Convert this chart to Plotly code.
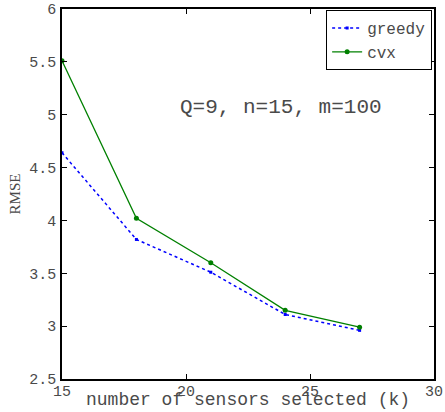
import plotly.graph_objects as go

k_values = [15, 18, 21, 24, 27]
greedy_rmse = [4.64, 3.82, 3.51, 3.11, 2.96]
cvx_rmse = [5.51, 4.02, 3.60, 3.15, 2.99]
x_ticks = [15, 20, 25, 30]
y_ticks = [2.5, 3, 3.5, 4, 4.5, 5, 5.5, 6]
y_tick_text = ["2.5", "3", "3.5", "4", "4.5", "5", "5.5", "6"]

mono = "Liberation Mono, Courier New, monospace"
gray = "#4a4a4a"

fig = go.Figure()
fig.add_trace(go.Scatter(
    x=k_values, y=greedy_rmse, name="greedy", mode="lines+markers",
    line=dict(color="#0000ff", width=1.5, dash="dot"),
    marker=dict(color="#0000ff", size=3, symbol="square"),
))
fig.add_trace(go.Scatter(
    x=k_values, y=cvx_rmse, name="cvx", mode="lines+markers",
    line=dict(color="#008000", width=1.3),
    marker=dict(color="#008000", size=5, symbol="circle"),
))

axis_common = dict(
    showline=True, linecolor="black", linewidth=1.5, mirror="ticks",
    ticks="inside", ticklen=5, tickcolor="black", tickwidth=1,
    showgrid=False, zeroline=False, automargin=False,
    tickfont=dict(family=mono, size=15, color=gray),
)

fig.update_xaxes(
    range=[15, 30], tickvals=x_ticks, ticktext=[str(v) for v in x_ticks],
    ticklabelstandoff=-3,
    **axis_common,
)
fig.update_yaxes(
    range=[2.5, 6], tickvals=y_ticks, ticktext=y_tick_text,
    title=dict(text="RMSE",
               font=dict(family="Liberation Serif, Times New Roman, serif", size=15, color=gray),
               standoff=5),
    ticklabelstandoff=1,
    **axis_common,
)

# x-axis title placed as annotation (sits just under the tick labels like the reference)
fig.add_annotation(
    x=0.5, y=-0.089, xref="paper", yref="paper", showarrow=False,
    xanchor="center", yanchor="bottom",
    text="number of sensors selected (k)", font=dict(family=mono, size=18, color=gray),
)

fig.add_annotation(
    x=0.59, y=0.77, xref="paper", yref="paper", showarrow=False,
    text="Q=9, n=15, m=100", font=dict(family=mono, size=21, color=gray),
)

fig.update_layout(
    width=445, height=412,
    margin=dict(l=62, r=11, t=9, b=33, autoexpand=False),
    paper_bgcolor="white", plot_bgcolor="white",
    showlegend=True,
    legend=dict(
        x=0.995, y=0.997, xanchor="right", yanchor="top",
        bordercolor="black", borderwidth=1, bgcolor="white",
        font=dict(family=mono, size=16, color=gray),
        itemwidth=30, tracegroupgap=0,
    ),
)

fig.write_html("out.html")
